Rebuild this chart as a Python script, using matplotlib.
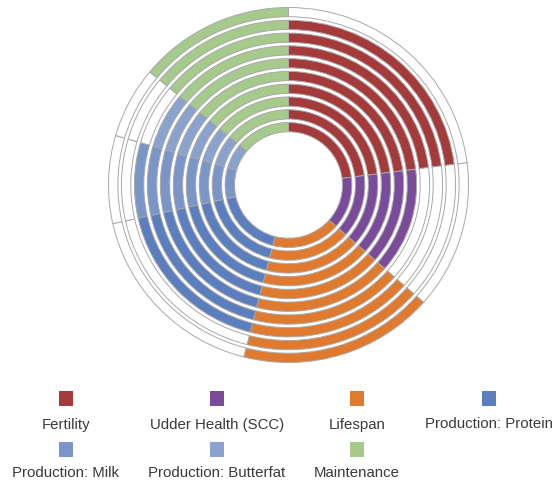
"""
Multi-ring doughnut: trait weights per ring, with unused traits left blank.
"""
import matplotlib.pyplot as plt
from matplotlib.patches import Rectangle

# --- Data --------------------------------------------------------------------
traits = ["Fertility", "Udder Health (SCC)", "Lifespan", "Production: Protein",
          "Production: Milk", "Production: Butterfat", "Maintenance"]
weights = [23, 13.5, 17.5, 17.5, 8, 6.5, 14]  # % of the index
colors = ["#A53A3B", "#7A4B9B", "#E07A2E", "#5B7EBE", "#7A95C8", "#8AA3CE", "#A6CA8C"]

# which traits are shown in each ring, innermost ring first
ring_used = [
    [1, 1, 1, 1, 1, 1, 1],
    [1, 1, 1, 1, 1, 1, 1],
    [1, 1, 1, 1, 1, 1, 1],
    [1, 1, 1, 1, 1, 1, 1],
    [1, 1, 1, 1, 1, 1, 1],
    [1, 1, 1, 1, 1, 1, 1],
    [1, 0, 1, 1, 1, 1, 1],
    [1, 0, 1, 1, 1, 0, 1],
    [1, 0, 1, 0, 0, 0, 1],
    [0, 0, 1, 0, 0, 0, 1],
]

# --- Style -------------------------------------------------------------------
EDGE = "#A8A8A8"
TEXT = "#3A3A3A"
RING_W = 0.052
INNER = 0.30
PITCH = (1 - RING_W - INNER) / (len(ring_used) - 1)

plt.rcParams["font.family"] = ["Liberation Sans", "DejaVu Sans"]

fig = plt.figure(figsize=(5.56, 4.80), dpi=100)
W, H = 556, 480
# doughnut box in pixels: x 108.5..468.5, y 7.5..362.5 (from top)
ax = fig.add_axes([108.5 / W, 1 - 362.5 / H, 360 / W, 355 / H])

for k, used in enumerate(ring_used):
    radius = INNER + RING_W + k * PITCH
    ring_colors = [c if u else "white" for c, u in zip(colors, used)]
    ax.pie(weights, radius=radius, colors=ring_colors, startangle=90,
           counterclock=False,
           wedgeprops=dict(width=RING_W, edgecolor=EDGE, linewidth=0.7))

ax.set_aspect("auto")
ax.set_xlim(-1, 1)
ax.set_ylim(-1, 1)
ax.axis("off")

# --- Legend: square above label, 4 columns x 2 rows ---------------------------
col_x = [66, 217, 357, 489]
row_sq_y = [398.5, 449.5]
row_txt_y = [424.5, 473]
SQ = 14.5
for i, (name, c) in enumerate(zip(traits, colors)):
    row, col = divmod(i, 4)
    x, ys, yt = col_x[col], row_sq_y[row], row_txt_y[row]
    fig.add_artist(Rectangle(((x - SQ / 2) / W, 1 - (ys + SQ / 2) / H), SQ / W, SQ / H,
                             transform=fig.transFigure, facecolor=c,
                             edgecolor="none"))
    fig.text(x / W, 1 - yt / H, name, ha="center", va="center",
             fontsize=10.8, color=TEXT)

fig.savefig("out.png", dpi=100)
